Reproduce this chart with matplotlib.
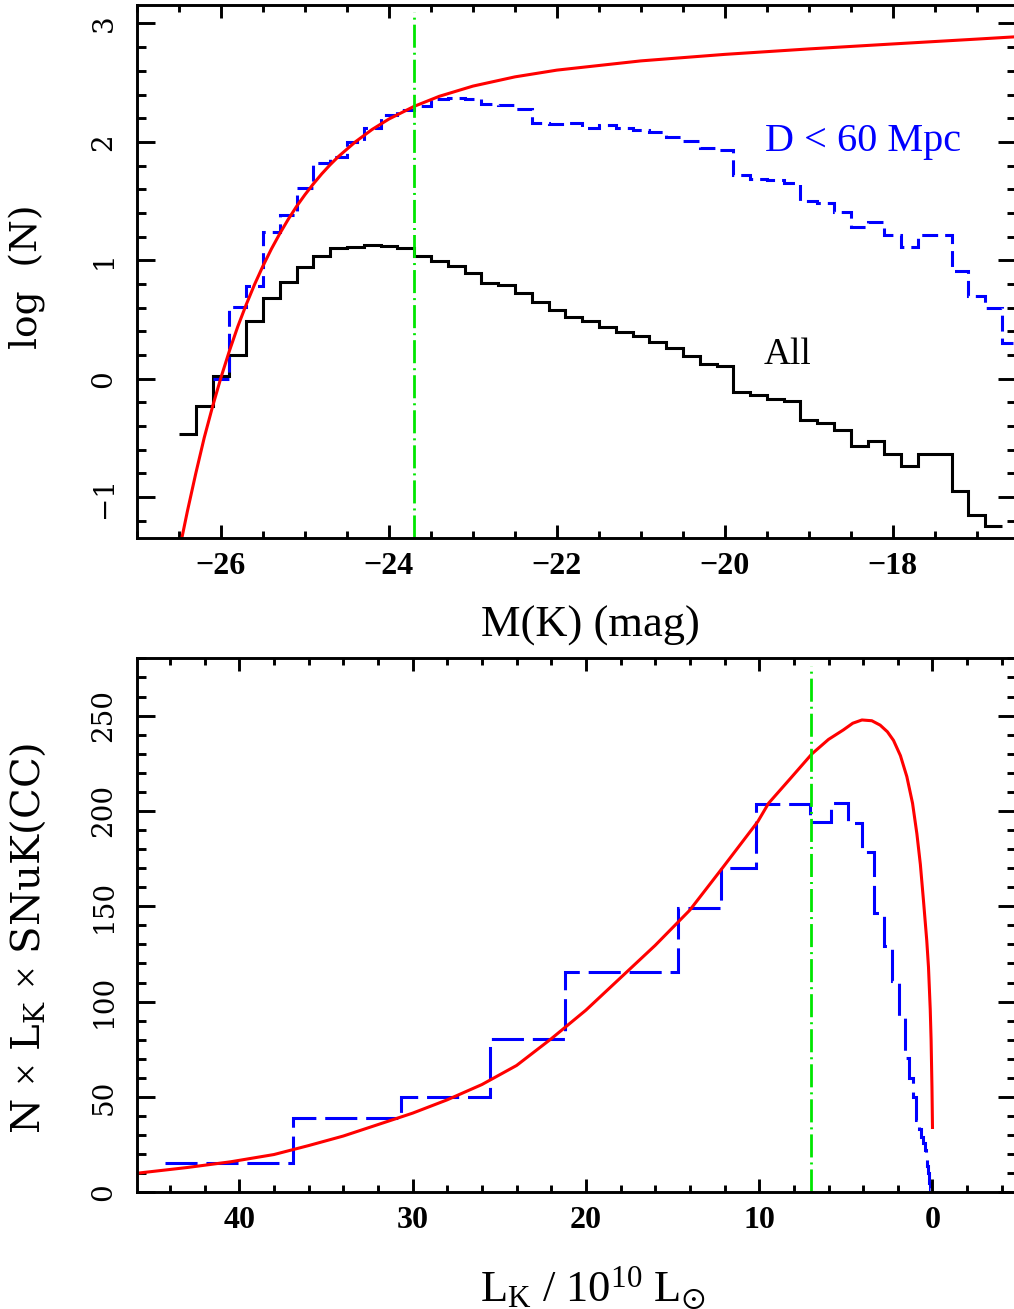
import matplotlib
matplotlib.use('Agg')
import matplotlib.pyplot as plt
from matplotlib.ticker import MultipleLocator
import numpy as np

plt.rcParams['mathtext.fontset'] = 'custom'
plt.rcParams['mathtext.rm'] = 'Liberation Serif'
plt.rcParams['mathtext.it'] = 'Liberation Serif:italic'
plt.rcParams['mathtext.bf'] = 'Liberation Serif:bold'
plt.rcParams['mathtext.fallback'] = 'stix'

# ---------------- top panel data ----------------
mk_bin = 0.2
mk_all_start = -26.5
logn_all = [-0.47, -0.23, 0.02, 0.20, 0.49, 0.68, 0.82, 0.94, 1.04, 1.10,
            1.11, 1.125, 1.12, 1.10, 1.04, 0.99, 0.95, 0.89, 0.81, 0.79,
            0.72, 0.65, 0.58, 0.52, 0.49, 0.44, 0.39, 0.36, 0.31, 0.26,
            0.19, 0.12, 0.11, -0.11, -0.14, -0.17, -0.19, -0.35, -0.375, -0.43,
            -0.57, -0.53, -0.64, -0.735, -0.64, -0.64, -0.945, -1.15, -1.245]
mk_near_start = -26.1
logn_near = [0.0, 0.605, 0.785, 1.24, 1.38, 1.61, 1.82, 1.875, 2.0, 2.115,
             2.23, 2.27, 2.30, 2.36, 2.37, 2.36, 2.32, 2.31, 2.28, 2.16,
             2.15, 2.16, 2.12, 2.14, 2.12, 2.10, 2.08, 2.045, 2.01, 1.95,
             1.93, 1.72, 1.69, 1.68, 1.65, 1.50, 1.48, 1.41, 1.285, 1.32,
             1.215, 1.116, 1.21, 1.21, 0.906, 0.695, 0.597, 0.30]
fit_mk = [-26.47, -26.4, -26.3, -26.2, -26.1, -26.0, -25.9, -25.8, -25.7, -25.6,
          -25.5, -25.4, -25.3, -25.2, -25.1, -25.0, -24.9, -24.8, -24.7, -24.6,
          -24.4, -24.2, -24.0, -23.7, -23.4, -23.0, -22.5, -22.0, -21.0, -20.0,
          -19.0, -18.0, -17.0, -16.55]
fit_logn = [-1.36, -1.12, -0.80, -0.50, -0.235, 0.01, 0.234, 0.44, 0.625, 0.796,
            0.952, 1.095, 1.225, 1.345, 1.455, 1.554, 1.645, 1.73, 1.807, 1.877,
            2.0, 2.105, 2.193, 2.30, 2.385, 2.471, 2.549, 2.606, 2.684, 2.739,
            2.785, 2.827, 2.868, 2.887]
mk_line = -23.7
label_near = 'D < 60 Mpc'
label_all = 'All'

# ---------------- bottom panel data ----------------
lk_edges = [44.3, 36.87, 30.67, 25.52, 21.23, 17.66, 14.69, 12.22, 10.17, 8.46,
            7.04, 5.85, 4.87, 4.05, 3.37, 2.80, 2.33, 1.94, 1.61, 1.34,
            1.12, 0.93, 0.77, 0.64, 0.53, 0.44, 0.37, 0.31, 0.26, 0.21,
            0.18, 0.15, 0.12, 0.10, 0.05]
lk_hist = [15.2, 39.1, 50.1, 80.2, 115.5, 115.5, 149.3, 170.0, 203.5, 203.5,
           194.0, 204.3, 193.5, 178.3, 146.3, 129.0, 111.0, 91.3, 70.3, 59.8,
           50.1, 38.0, 33.0, 29.0, 26.0, 22.0, 18.0, 14.0, 10.0, 7.0,
           5.0, 3.0, 1.5, 0.5]
lk_curve = [45.9, 43.0, 40.5, 38.0, 36.0, 34.0, 32.0, 30.0, 28.0, 26.0,
            24.0, 22.0, 20.0, 18.0, 16.0, 14.0, 12.06, 10.08, 9.46, 8.2,
            6.96, 6.0, 5.14, 4.6, 4.07, 3.5, 3.02, 2.6, 2.25, 1.85,
            1.48, 1.15, 0.9, 0.7, 0.52, 0.33, 0.23, 0.13, 0.08, 0.03, 0.0]
rate_curve = [10.0, 13.0, 16.0, 19.8, 24.5, 29.5, 35.5, 41.5, 48.5, 56.5,
              66.5, 80.5, 95.5, 112.5, 129.5, 148.0, 170.8, 194.4, 204.0, 217.0,
              229.9, 237.5, 242.5, 246.0, 247.7, 247.3, 245.0, 241.5, 237.0, 229.0,
              218.0, 204.0, 188.0, 172.0, 153.0, 132.0, 118.0, 96.0, 80.0, 55.0, 34.0]
lk_line = 7.0

W, H = 1014, 1309
fig = plt.figure(figsize=(W / 100, H / 100), dpi=100)
left = 137 / W
width = (1015.5 - 137) / W
ax1 = fig.add_axes([left, 1 - 538 / H, width, (538 - 5) / H])
ax2 = fig.add_axes([left, 1 - 1192.3 / H, width, (1192.3 - 658) / H])

RED = '#ff0000'
BLUE = '#0000ff'
GREEN = '#00e600'
LW = 2.2
GREEN_LS = (0, (8.3, 1.8, 0.72, 1.8))
YFONT = 'DejaVu Serif'

# top panel
edges_all = np.round(mk_all_start + mk_bin * np.arange(len(logn_all) + 1), 2)
edges_near = np.round(mk_near_start + mk_bin * np.arange(len(logn_near) + 1), 2)
ax1.stairs(logn_all, edges_all, baseline=None, color='black', lw=LW)
ax1.stairs(logn_near, edges_near, baseline=None, color=BLUE, lw=LW,
           linestyle=(0, (5.2, 2.3)))
ax1.plot(fit_mk, fit_logn, color=RED, lw=LW)
ax1.plot([mk_line, mk_line], [-1.35, 3.1], color=GREEN, lw=2.0, linestyle=GREEN_LS)
ax1.text(-18.35, 2.0, label_near, color=BLUE, ha='center', va='center',
         fontsize=29, family='Liberation Serif')
ax1.text(-19.26, 0.2, label_all, color='black', ha='center', va='center',
         fontsize=27, family='Liberation Serif')
ax1.set_xlim(-27, -16.54)
ax1.set_ylim(-1.346, 3.156)
ax1.xaxis.set_major_locator(MultipleLocator(2))
ax1.xaxis.set_minor_locator(MultipleLocator(0.5))
ax1.yaxis.set_major_locator(MultipleLocator(1))
ax1.yaxis.set_minor_locator(MultipleLocator(0.2))
ax1.set_xlabel('M(K) (mag)', family='Liberation Serif', fontsize=32)
ax1.xaxis.set_label_coords((590 - 137) / 878.5, (538 - 637) / 533)
ax1.xaxis.label.set_va('baseline')
ax1.set_ylabel('log  (N)', family=YFONT, fontsize=27)
ax1.yaxis.set_label_coords(-(137 - 28) / 878.5, 0.49)
ax1.yaxis.label.set_va('center')

# bottom panel
ax2.stairs(lk_hist, lk_edges, baseline=None, color=BLUE, lw=LW,
           linestyle=(0, (10.5, 2.9)))
ax2.plot(lk_curve, rate_curve, color=RED, lw=LW)
ax2.plot([lk_line, lk_line], [0, 276], color=GREEN, lw=2.0, linestyle=GREEN_LS)
ax2.set_xlim(45.9, -4.79)
ax2.set_ylim(0, 280.2)
ax2.xaxis.set_major_locator(MultipleLocator(10))
ax2.xaxis.set_minor_locator(MultipleLocator(2))
ax2.yaxis.set_major_locator(MultipleLocator(50))
ax2.yaxis.set_minor_locator(MultipleLocator(10))
ax2.set_xlabel(r'$\mathrm{L_K}$ / $\mathrm{10^{10}}$ $\mathrm{L_{\odot}}$',
               family='Liberation Serif', fontsize=32)
ax2.xaxis.set_label_coords((593 - 137) / 878.5, (1192.3 - 1300) / 534.3)
ax2.xaxis.label.set_va('baseline')
ax2.set_ylabel(r'N $\times$ L$_{\mathregular{K}}$ $\times$ SNuK(CC)',
               family=YFONT, fontsize=29)
ax2.yaxis.set_label_coords(-(137 - 28) / 878.5, 0.475)
ax2.yaxis.label.set_va('center')

for ax in (ax1, ax2):
    for sp in ax.spines.values():
        sp.set_linewidth(2.1)
    ax.tick_params(which='both', direction='in', top=True, right=True, width=2.1)
    ax.tick_params(axis='x', which='major', length=9.4, pad=10)
    ax.tick_params(axis='x', which='minor', length=4.7)
    ax.tick_params(axis='y', which='major', length=13, pad=14)
    ax.tick_params(axis='y', which='minor', length=6.5)
    for lab in ax.get_xticklabels():
        lab.set_family('Liberation Serif')
        lab.set_fontweight('bold')
        lab.set_fontsize(23)
    for lab in ax.get_yticklabels():
        lab.set_family(YFONT)
        lab.set_fontsize(20)
        lab.set_rotation(90)
        lab.set_va('center')

fig.savefig('out.png', dpi=100)
